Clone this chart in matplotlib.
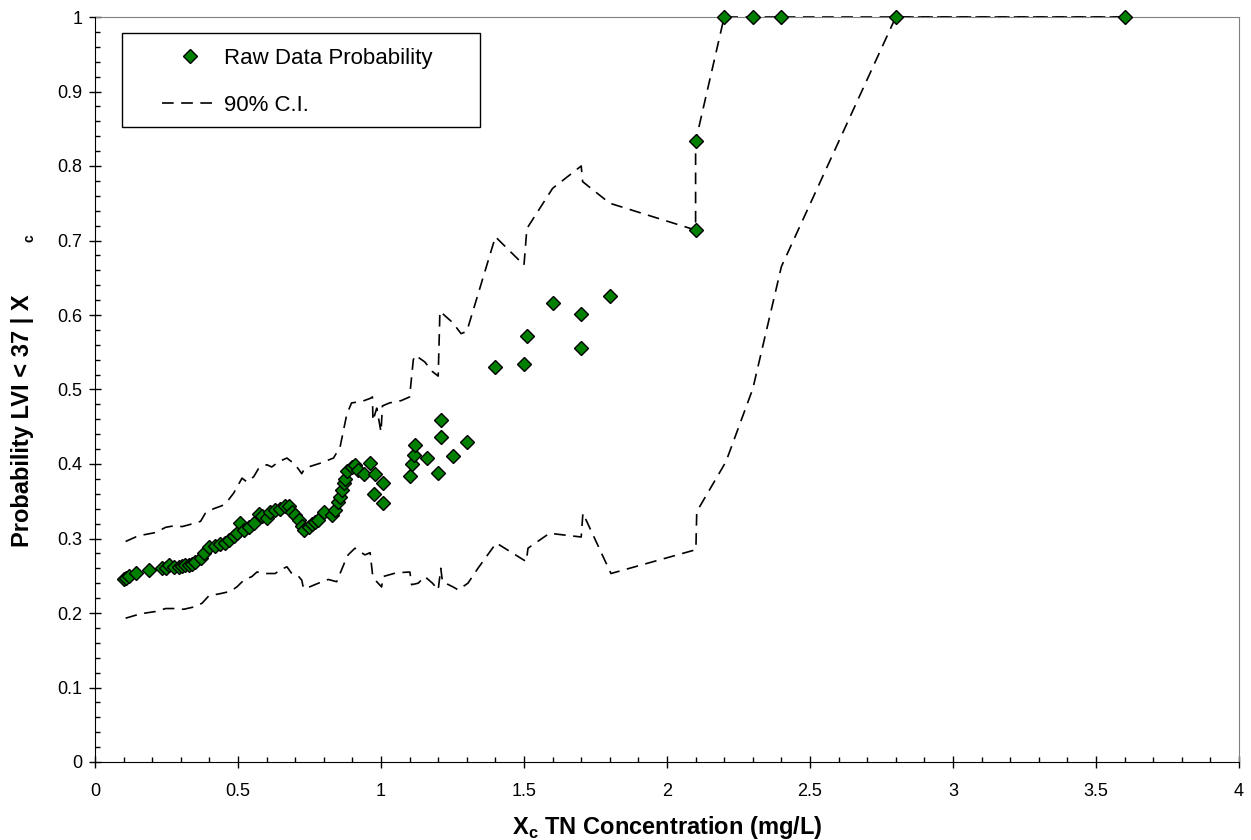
import numpy as np
import matplotlib
matplotlib.use("Agg")
import matplotlib.pyplot as plt
from matplotlib.ticker import MultipleLocator, FuncFormatter
from matplotlib.patches import Rectangle

plt.rcParams['font.family'] = ['Liberation Sans', 'DejaVu Sans']

# raw data probability (green diamonds)
raw_x = [0.10, 0.107, 0.119, 0.142, 0.188, 0.235, 0.247, 0.258, 0.276, 0.294,
         0.305, 0.316, 0.328, 0.340, 0.351, 0.369, 0.380, 0.398, 0.421, 0.438,
         0.456, 0.467, 0.485, 0.496, 0.508, 0.520, 0.537, 0.555, 0.572, 0.584,
         0.601, 0.613, 0.630, 0.648, 0.665, 0.677, 0.688, 0.700, 0.712, 0.723,
         0.731, 0.747, 0.760, 0.770, 0.781, 0.799, 0.828, 0.840, 0.851, 0.857,
         0.863, 0.869, 0.875, 0.880, 0.897, 0.909, 0.921, 0.939, 0.962, 0.979,
         1.006, 0.976, 1.006, 1.10, 1.11, 1.117, 1.12, 1.16, 1.20, 1.21,
         1.21, 1.25, 1.30, 1.40, 1.50, 1.51, 1.60, 1.70, 1.70, 1.80,
         2.10, 2.10, 2.20, 2.30, 2.40, 2.80, 3.60]
raw_p = [0.246, 0.247, 0.249, 0.254, 0.258, 0.260, 0.261, 0.264, 0.262, 0.262,
         0.263, 0.264, 0.265, 0.266, 0.269, 0.274, 0.280, 0.288, 0.290, 0.292,
         0.294, 0.298, 0.303, 0.307, 0.321, 0.311, 0.316, 0.321, 0.333, 0.330,
         0.327, 0.335, 0.338, 0.340, 0.343, 0.343, 0.336, 0.332, 0.325, 0.317,
         0.311, 0.316, 0.320, 0.322, 0.325, 0.336, 0.332, 0.338, 0.349, 0.356,
         0.365, 0.374, 0.380, 0.390, 0.396, 0.398, 0.392, 0.387, 0.401, 0.387,
         0.375, 0.360, 0.347, 0.384, 0.400, 0.412, 0.425, 0.408, 0.388, 0.436,
         0.459, 0.411, 0.429, 0.530, 0.534, 0.572, 0.616, 0.556, 0.601, 0.626,
         0.714, 0.833, 1.0, 1.0, 1.0, 1.0, 1.0]

# 90% confidence interval, upper bound
up_x = [0.107, 0.142, 0.171, 0.212, 0.247, 0.276, 0.305, 0.334, 0.369, 0.386,
        0.415, 0.444, 0.467, 0.485, 0.514, 0.531, 0.555, 0.572, 0.601, 0.618,
        0.642, 0.671, 0.694, 0.706, 0.723, 0.730, 0.746, 0.787, 0.834, 0.857,
        0.880, 0.897, 0.933, 0.962, 0.970, 0.972, 0.985, 1.0, 1.005, 1.03,
        1.07, 1.10, 1.113, 1.12, 1.153, 1.18, 1.20, 1.206, 1.25, 1.28,
        1.30, 1.40, 1.50, 1.51, 1.60, 1.70, 1.705, 1.80, 2.10, 2.10,
        2.20, 3.60]
up_p = [0.296, 0.302, 0.305, 0.308, 0.315, 0.317, 0.316, 0.319, 0.323, 0.334,
        0.340, 0.344, 0.352, 0.361, 0.381, 0.376, 0.383, 0.394, 0.399, 0.396,
        0.403, 0.408, 0.401, 0.396, 0.387, 0.392, 0.396, 0.401, 0.408, 0.423,
        0.466, 0.482, 0.484, 0.488, 0.490, 0.458, 0.475, 0.443, 0.478, 0.482,
        0.485, 0.490, 0.540, 0.546, 0.537, 0.524, 0.518, 0.605, 0.590, 0.575,
        0.578, 0.705, 0.667, 0.716, 0.770, 0.800, 0.779, 0.750, 0.714, 0.833,
        1.0, 1.0]

# 90% confidence interval, lower bound
lo_x = [0.107, 0.142, 0.177, 0.212, 0.247, 0.276, 0.310, 0.345, 0.374, 0.398,
        0.438, 0.473, 0.496, 0.520, 0.549, 0.566, 0.595, 0.630, 0.648, 0.671,
        0.688, 0.710, 0.723, 0.729, 0.750, 0.781, 0.816, 0.845, 0.874, 0.885,
        0.909, 0.920, 0.944, 0.962, 0.970, 0.985, 1.002, 1.008, 1.054, 1.101,
        1.107, 1.130, 1.153, 1.180, 1.200, 1.209, 1.215, 1.252, 1.270, 1.304,
        1.339, 1.403, 1.508, 1.514, 1.589, 1.700, 1.706, 1.804, 2.101, 2.104,
        2.206, 2.30, 2.40, 2.80, 3.60]
lo_p = [0.193, 0.197, 0.200, 0.202, 0.206, 0.206, 0.205, 0.208, 0.213, 0.223,
        0.226, 0.229, 0.235, 0.244, 0.249, 0.255, 0.253, 0.253, 0.258, 0.262,
        0.253, 0.250, 0.244, 0.233, 0.235, 0.240, 0.245, 0.242, 0.269, 0.278,
        0.287, 0.284, 0.278, 0.281, 0.253, 0.242, 0.235, 0.249, 0.254, 0.255,
        0.238, 0.240, 0.249, 0.240, 0.231, 0.260, 0.242, 0.235, 0.231, 0.240,
        0.260, 0.294, 0.269, 0.287, 0.307, 0.302, 0.334, 0.253, 0.285, 0.336,
        0.403, 0.501, 0.665, 1.0, 1.0]

fig = plt.figure(figsize=(12.51, 8.40), dpi=100)
ax = fig.add_axes([95/1251, 1 - 762/840, 1144/1251, 745/840])

ci_style = dict(color="black", linewidth=1.2, linestyle=(0, (7, 4.5)), clip_on=False)
ax.plot(up_x, up_p, label="90% C.I.", **ci_style)
ax.plot(lo_x, lo_p, **ci_style)
ax.plot(raw_x, raw_p, linestyle="none", marker="D", markersize=7.5,
        markerfacecolor="#008000", markeredgecolor="black", markeredgewidth=1.0,
        label="Raw Data Probability", clip_on=False, zorder=5)

ax.set_xlim(0, 4)
ax.set_ylim(0, 1)
ax.xaxis.set_major_locator(MultipleLocator(0.5))
ax.xaxis.set_minor_locator(MultipleLocator(0.1))
ax.yaxis.set_major_locator(MultipleLocator(0.1))
ax.yaxis.set_minor_locator(MultipleLocator(0.02))
fmt = FuncFormatter(lambda v, p: "{:g}".format(round(v, 2)))
ax.xaxis.set_major_formatter(fmt)
ax.yaxis.set_major_formatter(fmt)
ax.tick_params(which="major", direction="inout", length=8, width=1, labelsize=13)
ax.tick_params(axis="x", which="major", pad=11)
ax.tick_params(axis="y", which="major", pad=5)
ax.tick_params(which="minor", direction="in", length=3.5, width=1)
ax.tick_params(top=False, right=False, which="both")

for s in ["top", "right"]:
    ax.spines[s].set_color("#808080")
for s in ["left", "bottom"]:
    ax.spines[s].set_color("black")
    ax.spines[s].set_zorder(6)

ax.set_xlabel("X$_{\\mathregular{c}}$ TN Concentration (mg/L)", fontsize=17, fontweight="bold", labelpad=10)
fig.text(23/1251, 1 - 421/840, "Probability LVI < 37 | X", rotation=90,
         ha="center", va="center", fontsize=17, fontweight="bold")
fig.text(30/1251, 1 - 238/840, "c", rotation=90, ha="center", va="center",
         fontsize=10, fontweight="bold")

# legend box
ax.add_patch(Rectangle((27/1144, (762-127)/745), (480-122)/1144, 94/745,
                       transform=ax.transAxes, facecolor="white", edgecolor="black",
                       linewidth=1, zorder=7))
h, l = ax.get_legend_handles_labels()
leg = ax.legend([h[1], h[0]], [l[1], l[0]], loc="upper left",
                bbox_to_anchor=((162-95)/1144, (762-48)/745), frameon=False,
                fontsize=16, handlelength=2.5, handletextpad=0.3,
                labelspacing=1.15, borderpad=0, borderaxespad=0)
leg.set_zorder(8)

fig.savefig("out.png", dpi=100)
